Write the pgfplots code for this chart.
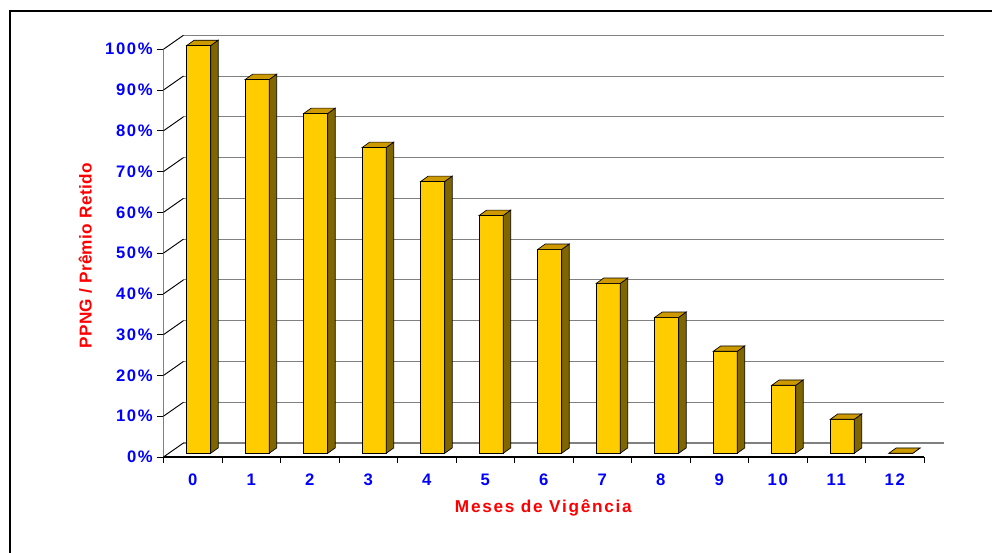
\documentclass[border=0pt]{standalone}
\usepackage{fontspec}
\newfontfamily\chartfont[LetterSpace=10]{Liberation Sans}
\newfontfamily\ylabfont[LetterSpace=2]{Liberation Sans}
\usepackage{pgfplots}
\pgfplotsset{compat=1.18}
\definecolor{barfront}{HTML}{FFCC00}
\definecolor{barside}{HTML}{806600}
\definecolor{bartop}{HTML}{CC9900}
\pgfdeclareplotmark{empty}{}
\begin{document}
\begin{tikzpicture}
\useasboundingbox (0,0) rectangle (744pt,414.75pt);
\clip (0,0) rectangle (744pt,414.75pt);
\draw[line width=2pt] (7.5pt,-20pt) rectangle (780pt,406.5pt);
\begin{axis}[
  at={(122.6pt,72pt)}, anchor=south west,
  scale only axis, width=570.4pt, height=305.8pt,
  xmin=-0.5, xmax=12.5, ymin=0, ymax=100,
  clip=false,
  axis x line*=bottom, axis y line*=left,
  x axis line style={-, black, line width=0.8pt},
  y axis line style={-, gray, line width=0.8pt},
  tick align=outside,
  xtick={0,...,12},
  xticklabels={0,1,2,3,4,5,6,7,8,9,10,11,12},
  minor xtick={-0.5,0.5,...,12.5},
  major x tick style={draw=none},
  minor x tick style={black, line width=0.6pt},
  minor tick length=4.5pt,
  ytick={0,10,...,100},
  yticklabels={0\%,10\%,20\%,30\%,40\%,50\%,60\%,70\%,80\%,90\%,100\%},
  major tick length=4.5pt,
  y tick style={black, line width=0.6pt},
  ymajorgrids,
  major grid style={gray, line width=0.8pt, shift={(15pt,10.5pt)}},
  ticklabel style={font={\chartfont\fontsize{12.5pt}{14pt}\selectfont\bfseries}, text=blue},
  xticklabel style={yshift=-4.5pt},
]
\foreach \v in {0,10,20,30,40,50,60,70,80,90,100}{
  \edef\temp{\noexpand\draw[black, line width=0.7pt] (axis cs:-0.5,\v) -- ++(15pt,10.5pt);}
  \temp
}
\addplot[scatter, only marks, mark=empty,
  visualization depends on={rawy \as \val},
  scatter/@pre marker code/.code={%
    \pgfmathsetlengthmacro\h{\val*3.058pt}%
    \filldraw[fill=barfront, draw=black, line width=0.5pt] (-4.5pt,{2.8pt-\h}) rectangle (13.5pt,2.8pt);
    \filldraw[fill=barside, draw=black, line width=0.5pt] (13.5pt,{2.8pt-\h}) -- (19.1pt,{6.8pt-\h}) -- (19.1pt,6.8pt) -- (13.5pt,2.8pt) -- cycle;
    \filldraw[fill=bartop, draw=black, line width=0.5pt] (-4.5pt,2.8pt) -- (13.5pt,2.8pt) -- (19.1pt,6.8pt) -- (1.1pt,6.8pt) -- cycle;
  },
  scatter/@post marker code/.code={}]
coordinates {(0,100) (1,91.67) (2,83.33) (3,75) (4,66.67) (5,58.33) (6,50)
  (7,41.67) (8,33.33) (9,25) (10,16.67) (11,8.33) (12,0)};
\end{axis}
\node[text=red, font={\chartfont\fontsize{12.9pt}{15pt}\selectfont\bfseries}] at (407.5pt,34.1pt) {Meses de Vigência};
\node[text=red, rotate=90, font={\ylabfont\fontsize{12.9pt}{15pt}\selectfont\bfseries}] at (64.1pt,222.75pt) {PPNG / Prêmio Retido};
\end{tikzpicture}
\end{document}
